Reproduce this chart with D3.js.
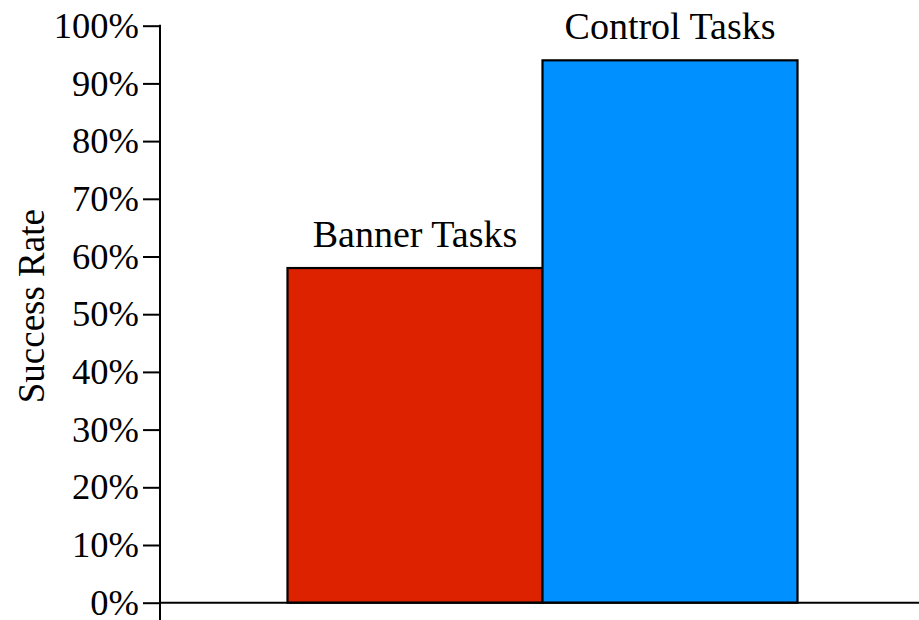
<!DOCTYPE html>
<html>
<head>
<meta charset="utf-8">
<script src="https://cdn.jsdelivr.net/npm/d3@7"></script>
<style>
  html, body { margin: 0; padding: 0; background: #fff; }
  svg { display: block; font-family: "Liberation Serif", "Times New Roman", serif; }
</style>
</head>
<body>
<svg id="chart" width="919" height="620"></svg>
<script>
const categories = ["Banner Tasks", "Control Tasks"];
const successRates = [58, 94];
const barColors = ["#dd2200", "#0090ff"];
const tickValues = [0, 10, 20, 30, 40, 50, 60, 70, 80, 90, 100];
const yAxisTitle = "Success Rate";

const svg = d3.select("#chart");
const axisX = 160, plotTop = 25.7, plotBottom = 602.7;

const x = d3.scaleBand().domain(categories).range([axisX, 925]).paddingInner(0).paddingOuter(0.5);
const y = d3.scaleLinear().domain([0, 100]).range([plotBottom, plotTop]);

// bars
svg.selectAll("rect.bar").data(categories).join("rect")
  .attr("class", "bar")
  .attr("x", d => x(d))
  .attr("y", (d, i) => y(successRates[i]))
  .attr("width", x.bandwidth())
  .attr("height", (d, i) => plotBottom - y(successRates[i]))
  .attr("fill", (d, i) => barColors[i])
  .attr("stroke", "#000")
  .attr("stroke-width", 2.2);

// bar labels
svg.selectAll("text.blabel").data(categories).join("text")
  .attr("class", "blabel")
  .attr("x", d => x(d) + x.bandwidth() / 2)
  .attr("y", (d, i) => y(successRates[i]) - 21)
  .attr("text-anchor", "middle")
  .attr("font-size", 38)
  .attr("fill", "#000")
  .text(d => d);

// y axis
const yAxis = d3.axisLeft(y).tickValues(tickValues).tickSize(17).tickPadding(4)
  .tickFormat(d => d + "%");
const gy = svg.append("g").attr("transform", `translate(${axisX},0)`).call(yAxis);
gy.select(".domain").remove();
gy.selectAll(".tick line").attr("stroke", "#000").attr("stroke-width", 2);
gy.selectAll(".tick text").attr("font-size", 36.5).attr("fill", "#000")
  .attr("font-family", "Liberation Serif, Times New Roman, serif");

// axis lines
svg.append("line").attr("x1", axisX).attr("x2", axisX).attr("y1", plotTop - 1).attr("y2", 620)
  .attr("stroke", "#000").attr("stroke-width", 2);
svg.append("line").attr("x1", axisX).attr("x2", 919).attr("y1", plotBottom).attr("y2", plotBottom)
  .attr("stroke", "#000").attr("stroke-width", 2);

// y axis title
svg.append("text")
  .attr("transform", `translate(44, ${(plotTop + plotBottom) / 2 - 8}) rotate(-90)`)
  .attr("text-anchor", "middle")
  .attr("font-size", 37)
  .attr("fill", "#000")
  .text(yAxisTitle);
</script>
</body>
</html>
